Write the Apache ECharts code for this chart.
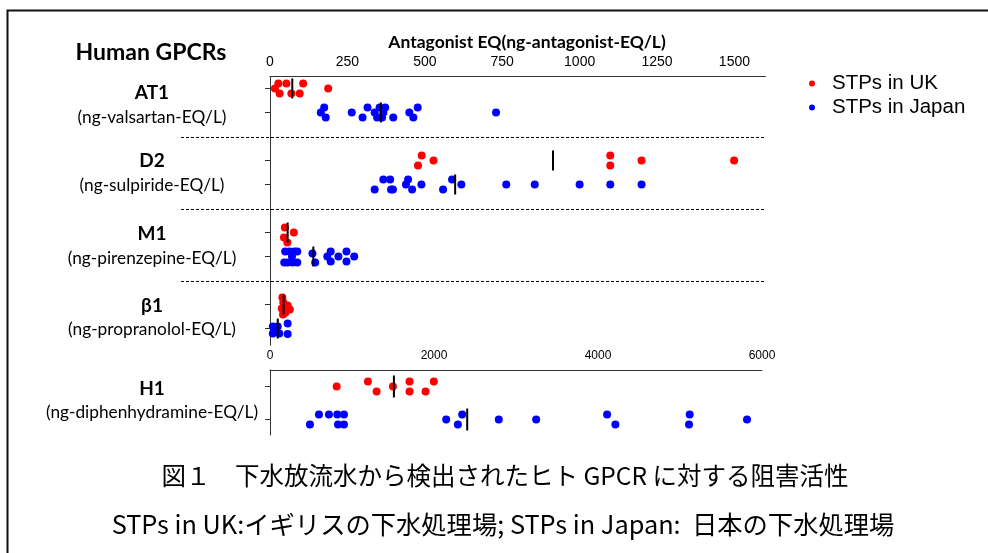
<!DOCTYPE html>
<html>
<head>
<meta charset="utf-8">
<title>Human GPCRs antagonist EQ</title>
<script src="https://cdn.jsdelivr.net/npm/echarts@6.0.0/dist/echarts.min.js"></script>
<style>
html, body { margin: 0; padding: 0; background: #fff; }
#chart { width: 988px; height: 553px; }
</style>
</head>
<body>
<div id="chart"></div>
<script>
// values (ng-antagonist-EQ/L); jitter = vertical spread in dot steps
const at1UK = [16, 27, 31, 53, 69, 96, 107, 188];
const at1UKJit = [0, -1, 1, -1, 1, 1, -1, 0];
const at1JP = [164, 175, 180, 264, 299, 315, 338, 346, 354, 366, 372, 362, 398, 450, 463, 477, 730];
const at1JPJit = [0, -1, 1, 0, 1, -1, 0, 1, -1, 0, -1, 1, 1, 0, 1, -1, 0];

const d2UK = [490, 478, 528, 1099, 1099, 1200, 1499];
const d2UKJit = [-1, 1, 0, -1, 1, 0, 0];
const d2JP = [338, 366, 388, 391, 397, 439, 446, 459, 489, 559, 588, 618, 763, 855, 1000, 1099, 1200];
const d2JPJit = [1, -1, -1, 1, 1, 0, -1, 1, 0, 1, -1, 0, 0, 0, 0, 0, 0];

const m1UK = [48, 45, 56, 77];
const m1UKJit = [-1, 1, 2, 0];
const m1JP = [49, 63, 79, 88, 71, 46, 57, 73, 88, 137, 146, 185, 196, 196, 221, 247, 247, 272];
const m1JPJit = [-1, -1, -1, -1, 0, 1.2, 1.2, 1.2, 1.2, -0.6, 1.2, 0, -1, 1, 0, -1, 1, 0];

const b1UK = [40, 43, 38, 42, 57, 64, 50];
const b1UKJit = [-1.4, -0.4, 0.8, 2, 0.2, 1, 1.6];
const b1JP = [9, 9, 25, 30, 57, 57, 16];
const b1JPJit = [-0.4, 1, -0.4, 1, -1, 1.1, 0.3];

const h1UK = [813, 1194, 1300, 1499, 1702, 1702, 1897, 1998];
const h1UKJit = [0, -1, 1, 0, -1, 1, 1, -1];
const h1JP = [487, 597, 719, 821, 829, 902, 902, 2149, 2291, 2344, 2790, 3246, 4111, 4212, 5118, 5110, 5817];
const h1JPJit = [1, -1, -1, -1, 1, -1, 1, 0, 1, -1, 0, 0, -1, 1, -1, 1, 0];

// medians for AT1, D2, M1, β1 (top axis) and H1 (bottom axis)
const medTopUK = [72, 914, 57, 44];
const medTopJP = [358, 598, 140, 25];
const medH1 = [1511, 2405];

const receptors = ['AT1', 'D2', 'M1', 'β1', 'H1'];
const refUnits = ['(ng-valsartan-EQ/L)', '(ng-sulpiride-EQ/L)', '(ng-pirenzepine-EQ/L)',
  '(ng-propranolol-EQ/L)', '(ng-diphenhydramine-EQ/L)'];
const topTicks = [0, 250, 500, 750, 1000, 1250, 1500];
const bottomTicks = [0, 2000, 4000, 6000];

// row positions on the band axes
const rowsUK = [0.5, 3.5, 6.5, 9.5];
const rowsJP = [1.5, 4.5, 7.5, 10.5];
const sepRows = [2.54, 5.54, 8.54];
const STEP_TOP = 0.21, STEP_H1 = 0.15;

function pts(vals, jit, row, step) {
  return vals.map((v, i) => [v, row + jit[i] * step]);
}

const topUK = [].concat(
  pts(at1UK, at1UKJit, rowsUK[0], STEP_TOP),
  pts(d2UK, d2UKJit, rowsUK[1], STEP_TOP),
  pts(m1UK, m1UKJit, rowsUK[2], STEP_TOP),
  pts(b1UK, b1UKJit, rowsUK[3], STEP_TOP));
const topJP = [].concat(
  pts(at1JP, at1JPJit, rowsJP[0], STEP_TOP),
  pts(d2JP, d2JPJit, rowsJP[1], STEP_TOP),
  pts(m1JP, m1JPJit, rowsJP[2], STEP_TOP),
  pts(b1JP, b1JPJit, rowsJP[3], STEP_TOP));
const botUK = pts(h1UK, h1UKJit, 0.5, STEP_H1);
const botJP = pts(h1JP, h1JPJit, 1.5, STEP_H1);
const topMed = medTopUK.map((v, i) => [v, rowsUK[i]]).concat(medTopJP.map((v, i) => [v, rowsJP[i]]));
const botMed = [[medH1[0], 0.5], [medH1[1], 1.5]];

const RED = '#ff0000', BLUE = '#0000ff';
const labelFont = 'Lato, "Noto Sans", sans-serif';
const axisCol = '#333';

const chart = echarts.init(document.getElementById('chart'));

function dotSeries(name, color, data, idx) {
  return {
    name: name, type: 'scatter', xAxisIndex: idx, yAxisIndex: idx,
    data: data, symbolSize: 8,
    itemStyle: { color: color, opacity: 1 },
    emphasis: { disabled: true }
  };
}

chart.setOption({
  animation: false,
  backgroundColor: '#fff',
  grid: [
    { left: 270, right: 222.6, top: 76.5, height: 268.8 },
    { left: 270, right: 226, top: 370, height: 65 }
  ],
  xAxis: [
    {
      gridIndex: 0, type: 'value', position: 'top', min: 0, max: 1600, interval: 250,
      axisLine: { show: true, lineStyle: { color: axisCol, width: 1 } },
      axisTick: { show: false }, splitLine: { show: false },
      axisLabel: {
        color: '#000', fontSize: 14, margin: 7, fontFamily: 'Liberation Sans',
        formatter: v => topTicks.indexOf(v) >= 0 ? String(v) : ''
      }
    },
    {
      gridIndex: 1, type: 'value', position: 'top', min: 0, max: 6000, interval: 2000,
      axisLine: { show: true, lineStyle: { color: axisCol, width: 1 } },
      axisTick: { show: false }, splitLine: { show: false },
      axisLabel: {
        color: '#000', fontSize: 12, margin: 8, fontFamily: 'Liberation Sans',
        formatter: v => bottomTicks.indexOf(v) >= 0 ? String(v) : ''
      }
    }
  ],
  yAxis: [
    {
      gridIndex: 0, type: 'value', min: 0, max: 11.2, inverse: true,
      axisLine: { show: true, lineStyle: { color: axisCol, width: 1 } },
      axisTick: { show: true, length: 5, customValues: rowsUK.concat(rowsJP), lineStyle: { color: axisCol } },
      axisLabel: { show: false }, splitLine: { show: false }
    },
    {
      gridIndex: 1, type: 'value', min: 0, max: 1.97, inverse: true,
      axisLine: { show: true, lineStyle: { color: axisCol, width: 1 } },
      axisTick: { show: true, length: 5, customValues: [0.5, 1.5], lineStyle: { color: axisCol } },
      axisLabel: { show: false }, splitLine: { show: false }
    }
  ],
  legend: {
    data: ['STPs in UK', 'STPs in Japan'],
    orient: 'vertical', left: 809, top: 73, padding: 0,
    itemWidth: 30, itemHeight: 6, itemGap: 3, icon: 'circle',
    selectedMode: false,
    textStyle: { color: '#000', fontSize: 20.5, fontFamily: 'Liberation Sans' }
  },
  series: [
    dotSeries('STPs in UK', RED, topUK, 0),
    dotSeries('STPs in Japan', BLUE, topJP, 0),
    dotSeries('STPs in UK', RED, botUK, 1),
    dotSeries('STPs in Japan', BLUE, botJP, 1),
    {
      name: 'median', type: 'scatter', xAxisIndex: 0, yAxisIndex: 0, z: 5,
      data: topMed, symbol: 'rect', symbolSize: [2, 20],
      itemStyle: { color: '#000', opacity: 1 }, emphasis: { disabled: true }
    },
    {
      name: 'median', type: 'scatter', xAxisIndex: 1, yAxisIndex: 1, z: 5,
      data: botMed, symbol: 'rect', symbolSize: [2, 22],
      itemStyle: { color: '#000', opacity: 1 }, emphasis: { disabled: true }
    }
  ]
});

// text and decoration
function txt(text, x, y, font) {
  return {
    type: 'text', x: x, y: y, silent: true,
    style: { text: text, font: font, fill: '#000', align: 'center', verticalAlign: 'middle',
      textAlign: 'center', textVerticalAlign: 'middle' }
  };
}
const nameY = [93, 161, 234, 306, 389];
const unitY = [117, 185, 258, 329, 412];
const g = [];
g.push({ type: 'polyline', silent: true, shape: { points: [[7.5, 553], [7.5, 10.5], [988, 10.5]] },
  style: { stroke: '#111', lineWidth: 2, fill: null } });
g.push(txt('Human GPCRs', 151, 53, 'bold 23px ' + labelFont));
g.push(txt('Antagonist EQ(ng-antagonist-EQ/L)', 527, 42, 'bold 17.5px ' + labelFont));
receptors.forEach((r, i) => {
  g.push(txt(r, 152, nameY[i], 'bold 19px ' + labelFont));
  g.push(txt(refUnits[i], 152, unitY[i], '17.3px ' + labelFont));
});
const xEnd = chart.convertToPixel({ xAxisIndex: 0 }, 1600);
sepRows.forEach(r => {
  const y = Math.round(chart.convertToPixel({ yAxisIndex: 0 }, r)) + 0.5;
  g.push({ type: 'line', silent: true, shape: { x1: 181, y1: y, x2: xEnd, y2: y },
    style: { stroke: '#000', lineWidth: 1, lineDash: [3, 2] } });
});
g.push(txt('図１　下水放流水から検出されたヒト GPCR に対する阻害活性', 505, 476,
  '24.5px "Noto Sans CJK JP", sans-serif'));
g.push(txt('STPs in UK:イギリスの下水処理場; STPs in Japan:  日本の下水処理場', 503, 524,
  '25.3px "Noto Sans CJK JP", sans-serif'));
chart.setOption({ graphic: g });
</script>
</body>
</html>
